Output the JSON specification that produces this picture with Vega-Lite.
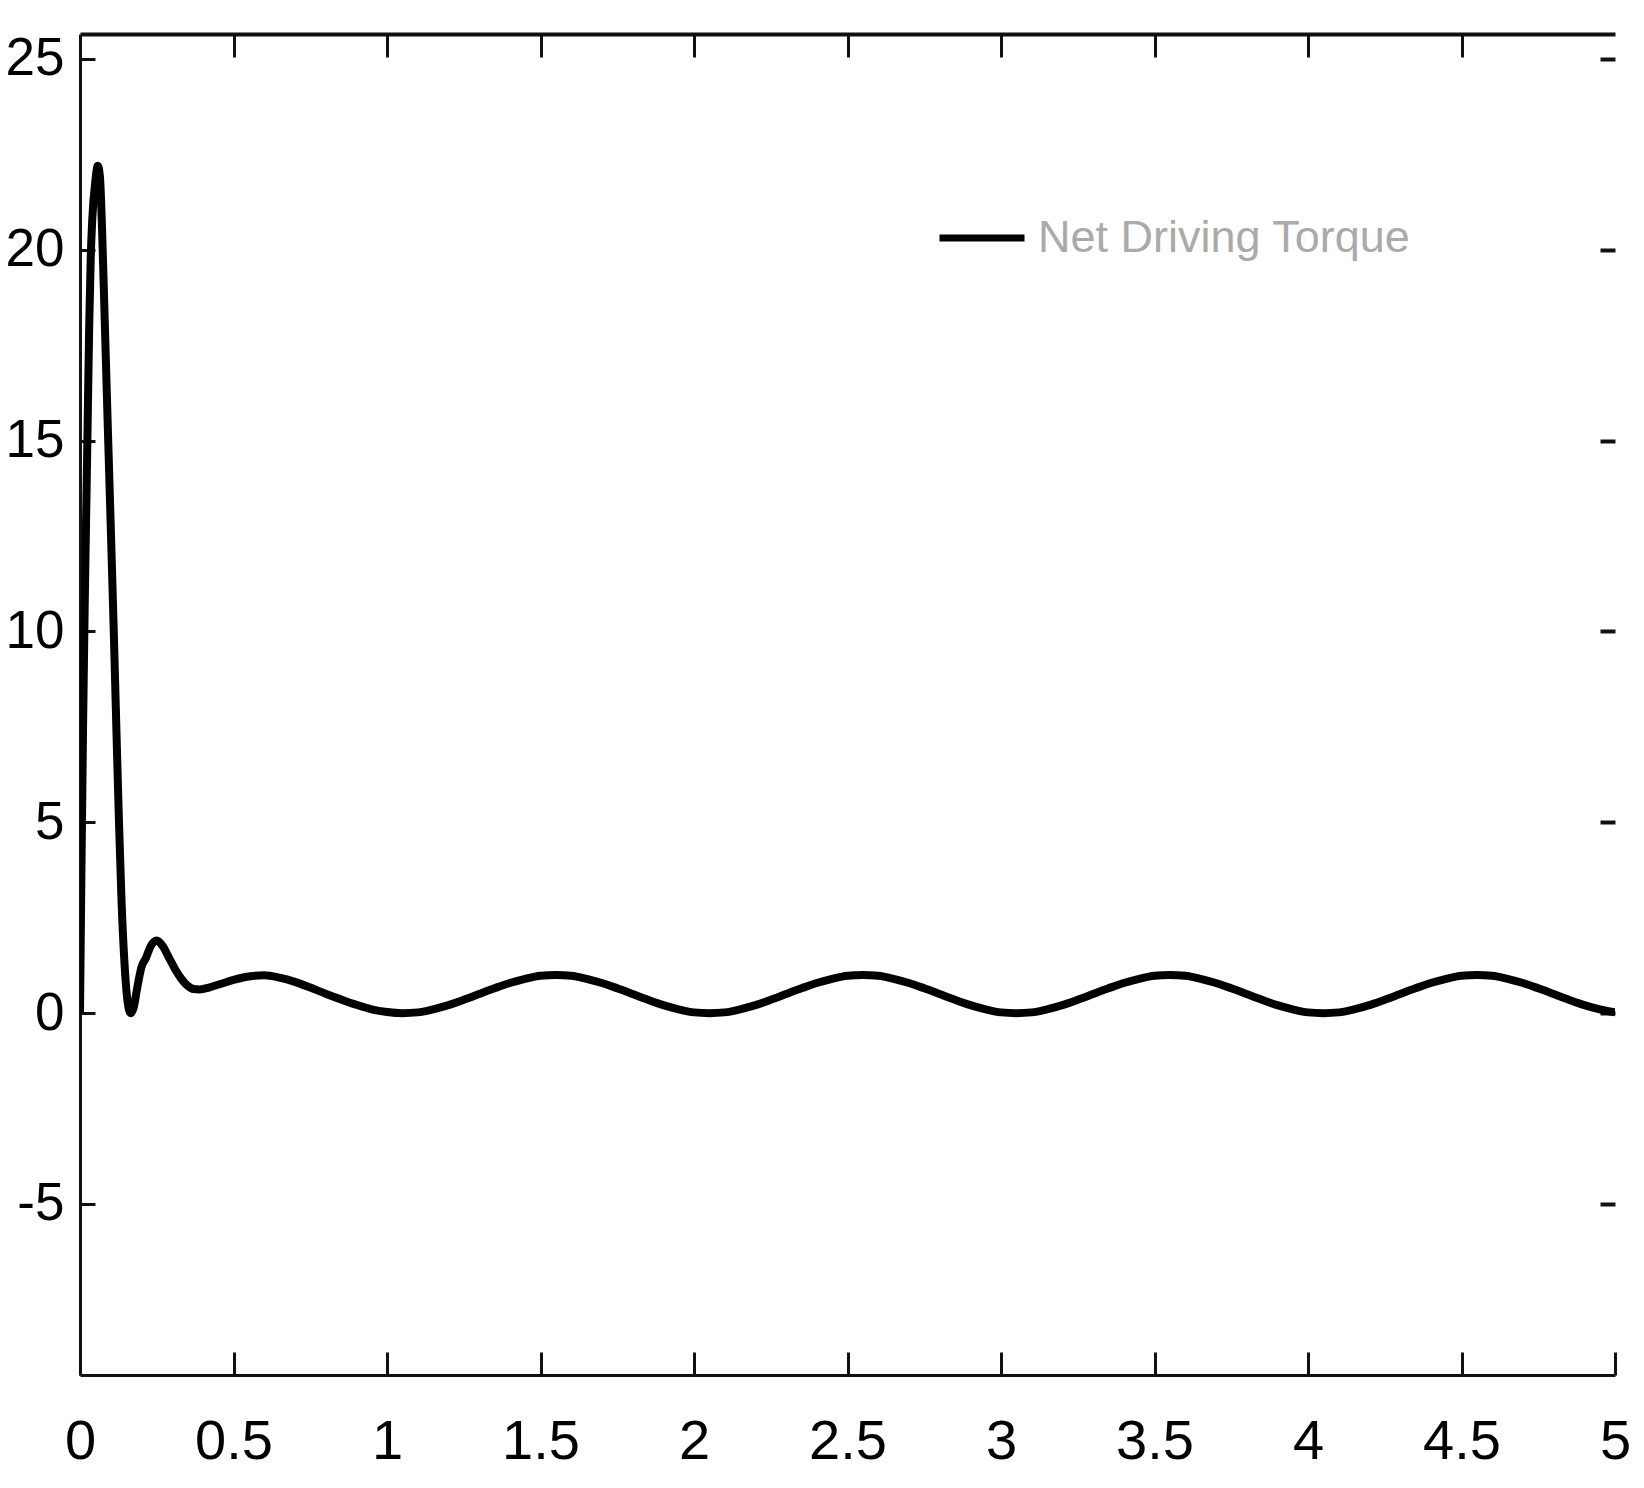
{
  "$schema": "https://vega.github.io/schema/vega-lite/v6.json",
  "width": 1535,
  "height": 1341,
  "autosize": {"type": "none"},
  "padding": {"left": 80, "top": 34, "right": 29, "bottom": 113},
  "background": "white",
  "config": {
    "view": {"stroke": null},
    "font": "Liberation Sans, Arial",
    "axis": {
      "grid": false,
      "domainColor": "#111111",
      "domainWidth": 3,
      "tickColor": "#111111",
      "tickWidth": 3,
      "labelColor": "#000000",
      "labelFont": "Liberation Sans, Arial",
      "labelFlush": false,
      "title": null
    }
  },
  "data": {
    "values": [
      {"t": 0, "v": 0},
      {"t": 0.005, "v": 4},
      {"t": 0.01, "v": 7.5},
      {"t": 0.015, "v": 10.5},
      {"t": 0.02, "v": 13},
      {"t": 0.025, "v": 15.5},
      {"t": 0.03, "v": 18},
      {"t": 0.035, "v": 19.8},
      {"t": 0.04, "v": 20.8},
      {"t": 0.05, "v": 21.8},
      {"t": 0.058, "v": 22.2},
      {"t": 0.065, "v": 21.9},
      {"t": 0.072, "v": 20.5},
      {"t": 0.08, "v": 18.3},
      {"t": 0.09, "v": 15.5},
      {"t": 0.1, "v": 12.8},
      {"t": 0.11, "v": 10},
      {"t": 0.12, "v": 7},
      {"t": 0.127, "v": 5},
      {"t": 0.135, "v": 3},
      {"t": 0.145, "v": 1.3},
      {"t": 0.155, "v": 0.3},
      {"t": 0.165, "v": 0},
      {"t": 0.175, "v": 0.15},
      {"t": 0.185, "v": 0.6},
      {"t": 0.2, "v": 1.2},
      {"t": 0.215, "v": 1.45},
      {"t": 0.23, "v": 1.75},
      {"t": 0.25, "v": 1.9},
      {"t": 0.27, "v": 1.75},
      {"t": 0.29, "v": 1.45},
      {"t": 0.31, "v": 1.15},
      {"t": 0.33, "v": 0.9},
      {"t": 0.35, "v": 0.72},
      {"t": 0.37, "v": 0.63},
      {"t": 0.39, "v": 0.62},
      {"t": 0.42, "v": 0.67},
      {"t": 0.46, "v": 0.77},
      {"t": 0.5, "v": 0.87},
      {"t": 0.55, "v": 0.96},
      {"t": 0.6, "v": 0.99},
      {"t": 0.65, "v": 0.93},
      {"t": 0.7, "v": 0.82},
      {"t": 0.75, "v": 0.67},
      {"t": 0.8, "v": 0.51},
      {"t": 0.85, "v": 0.36},
      {"t": 0.9, "v": 0.22},
      {"t": 0.95, "v": 0.1},
      {"t": 1.0, "v": 0.03},
      {"t": 1.05, "v": 0},
      {"t": 1.1, "v": 0.02},
      {"t": 1.15, "v": 0.1},
      {"t": 1.2, "v": 0.21},
      {"t": 1.25, "v": 0.35},
      {"t": 1.3, "v": 0.5},
      {"t": 1.35, "v": 0.65},
      {"t": 1.4, "v": 0.79},
      {"t": 1.45, "v": 0.9},
      {"t": 1.5, "v": 0.98},
      {"t": 1.55, "v": 1.0},
      {"t": 1.6, "v": 0.98},
      {"t": 1.65, "v": 0.9},
      {"t": 1.7, "v": 0.79},
      {"t": 1.75, "v": 0.65},
      {"t": 1.8, "v": 0.5},
      {"t": 1.85, "v": 0.35},
      {"t": 1.9, "v": 0.21},
      {"t": 1.95, "v": 0.1},
      {"t": 2.0, "v": 0.02},
      {"t": 2.05, "v": 0},
      {"t": 2.1, "v": 0.02},
      {"t": 2.15, "v": 0.1},
      {"t": 2.2, "v": 0.21},
      {"t": 2.25, "v": 0.35},
      {"t": 2.3, "v": 0.5},
      {"t": 2.35, "v": 0.65},
      {"t": 2.4, "v": 0.79},
      {"t": 2.45, "v": 0.9},
      {"t": 2.5, "v": 0.98},
      {"t": 2.55, "v": 1.0},
      {"t": 2.6, "v": 0.98},
      {"t": 2.65, "v": 0.9},
      {"t": 2.7, "v": 0.79},
      {"t": 2.75, "v": 0.65},
      {"t": 2.8, "v": 0.5},
      {"t": 2.85, "v": 0.35},
      {"t": 2.9, "v": 0.21},
      {"t": 2.95, "v": 0.1},
      {"t": 3.0, "v": 0.02},
      {"t": 3.05, "v": 0},
      {"t": 3.1, "v": 0.02},
      {"t": 3.15, "v": 0.1},
      {"t": 3.2, "v": 0.21},
      {"t": 3.25, "v": 0.35},
      {"t": 3.3, "v": 0.5},
      {"t": 3.35, "v": 0.65},
      {"t": 3.4, "v": 0.79},
      {"t": 3.45, "v": 0.9},
      {"t": 3.5, "v": 0.98},
      {"t": 3.55, "v": 1.0},
      {"t": 3.6, "v": 0.98},
      {"t": 3.65, "v": 0.9},
      {"t": 3.7, "v": 0.79},
      {"t": 3.75, "v": 0.65},
      {"t": 3.8, "v": 0.5},
      {"t": 3.85, "v": 0.35},
      {"t": 3.9, "v": 0.21},
      {"t": 3.95, "v": 0.1},
      {"t": 4.0, "v": 0.02},
      {"t": 4.05, "v": 0},
      {"t": 4.1, "v": 0.02},
      {"t": 4.15, "v": 0.1},
      {"t": 4.2, "v": 0.21},
      {"t": 4.25, "v": 0.35},
      {"t": 4.3, "v": 0.5},
      {"t": 4.35, "v": 0.65},
      {"t": 4.4, "v": 0.79},
      {"t": 4.45, "v": 0.9},
      {"t": 4.5, "v": 0.98},
      {"t": 4.55, "v": 1.0},
      {"t": 4.6, "v": 0.98},
      {"t": 4.65, "v": 0.9},
      {"t": 4.7, "v": 0.79},
      {"t": 4.75, "v": 0.65},
      {"t": 4.8, "v": 0.5},
      {"t": 4.85, "v": 0.35},
      {"t": 4.9, "v": 0.21},
      {"t": 4.95, "v": 0.1},
      {"t": 5.0, "v": 0.02}
    ]
  },
  "layer": [
    {
      "mark": {"type": "line", "strokeOpacity": 0},
      "encoding": {
        "x": {
          "field": "t",
          "type": "quantitative",
          "scale": {"domain": [0, 5], "nice": false, "zero": false},
          "axis": {
            "orient": "top",
            "labels": false,
            "values": [0.5, 1, 1.5, 2, 2.5, 3, 3.5, 4, 4.5],
            "tickSize": -23,
            "domainWidth": 4,
            "domain": true
          }
        },
        "y": {
          "field": "v",
          "type": "quantitative",
          "scale": {"domain": [-9.48, 25.65], "nice": false, "zero": false},
          "axis": {
            "orient": "right",
            "labels": false,
            "values": [-5, 0, 5, 10, 15, 20, 25],
            "tickSize": -15,
            "tickWidth": 4,
            "domain": false
          }
        }
      }
    },
    {
      "mark": {"type": "line", "strokeWidth": 8, "interpolate": "monotone", "clip": true},
      "encoding": {
        "x": {
          "field": "t",
          "type": "quantitative",
          "axis": {
            "orient": "bottom",
            "values": [0, 0.5, 1, 1.5, 2, 2.5, 3, 3.5, 4, 4.5, 5],
            "labelExpr": "'' + datum.value",
            "labelFontSize": 56,
            "tickSize": -23,
            "labelPadding": 62
          }
        },
        "y": {
          "field": "v",
          "type": "quantitative",
          "axis": {
            "orient": "left",
            "values": [-5, 0, 5, 10, 15, 20, 25],
            "labelExpr": "'' + datum.value",
            "labelFontSize": 53,
            "tickSize": -15,
            "labelPadding": 31
          }
        },
        "color": {
          "datum": "Net Driving Torque",
          "type": "nominal",
          "scale": {"range": ["#000000"]},
          "legend": {
            "orient": "none",
            "legendX": 856,
            "legendY": 158,
            "title": null,
            "padding": 0,
            "symbolType": "stroke",
            "symbolSize": 7225,
            "symbolStrokeWidth": 7,
            "symbolStrokeColor": "#000000",
            "labelFont": "Liberation Sans, Arial",
            "labelFontSize": 45,
            "labelColor": "#aaaaaa",
            "labelOffset": 10,
            "labelLimit": 0
          }
        }
      }
    }
  ],
  "resolve": {"axis": {"x": "independent", "y": "independent"}}
}
